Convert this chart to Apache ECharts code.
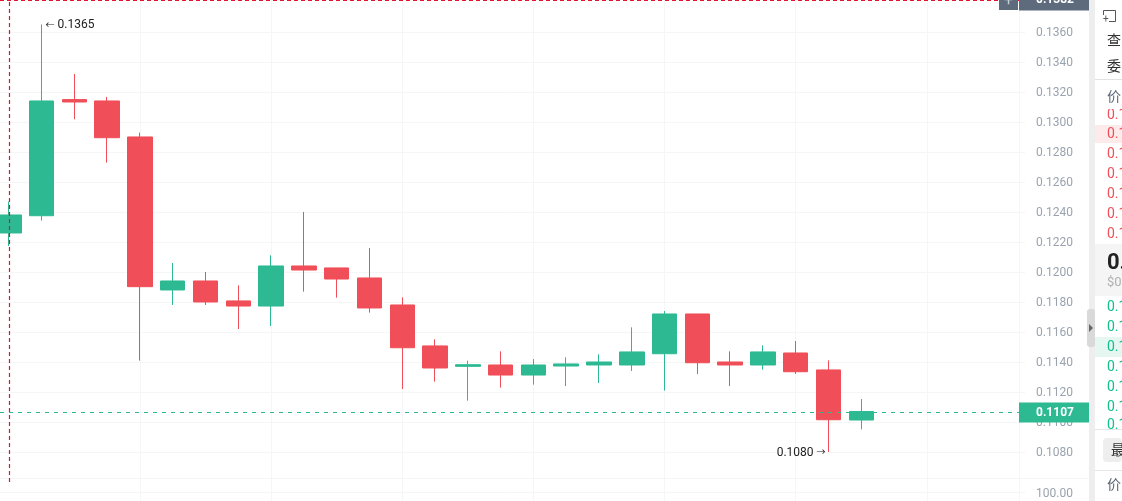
<!DOCTYPE html>
<html>
<head>
<meta charset="utf-8">
<title>K-line</title>
<script src="https://cdn.jsdelivr.net/npm/echarts@6/dist/echarts.min.js"></script>
<style>
  html, body { margin: 0; padding: 0; background: #fff; overflow: hidden; }
  #chart { width: 1122px; height: 501px; }
</style>
</head>
<body>
<div id="chart"></div>
<script>
const candleIndex = [0, 1, 2, 3, 4, 5, 6, 7, 8, 9, 10, 11, 12, 13, 14, 15, 16, 17, 18, 19, 20, 21, 22, 23, 24, 25, 26];
const opens = [0.1226, 0.12375, 0.13149, 0.1314, 0.1290, 0.1188, 0.1194, 0.11807, 0.11773, 0.1204, 0.12027, 0.1196, 0.1178, 0.11507, 0.11371, 0.1138, 0.11313, 0.11373, 0.1138, 0.1138, 0.11455, 0.1172, 0.1140, 0.1138, 0.1146, 0.11347, 0.11013];
const closes = [0.1238, 0.1314, 0.13133, 0.12895, 0.11902, 0.1194, 0.1180, 0.11773, 0.1204, 0.12013, 0.11953, 0.1176, 0.11495, 0.1136, 0.11382, 0.11313, 0.1138, 0.11387, 0.1140, 0.11467, 0.1172, 0.11395, 0.1138, 0.11467, 0.11335, 0.11015, 0.1107];
const lows = [0.12173, 0.12342, 0.13018, 0.12729, 0.11409, 0.1178, 0.1178, 0.1162, 0.1164, 0.11869, 0.11829, 0.11729, 0.1122, 0.11269, 0.11142, 0.11229, 0.11249, 0.1124, 0.1126, 0.1134, 0.11209, 0.1132, 0.1124, 0.11349, 0.1132, 0.1080, 0.10951];
const highs = [0.12469, 0.1365, 0.1332, 0.13167, 0.12929, 0.1206, 0.1200, 0.11911, 0.12111, 0.1240, 0.12027, 0.1216, 0.11831, 0.11551, 0.11409, 0.11471, 0.1142, 0.11431, 0.11451, 0.11631, 0.1174, 0.1172, 0.11471, 0.11511, 0.1154, 0.11411, 0.11153];

const priceTicks = [0.1360, 0.1340, 0.1320, 0.1300, 0.1280, 0.1260, 0.1240, 0.1220, 0.1200, 0.1180, 0.1160, 0.1140, 0.1120, 0.1100, 0.1080];
const verticalTicks = [4, 8, 12, 16, 20, 24, 28];
const volumeTicks = [100];

const lastPrice = 0.11063;
const lastPriceLabel = '0.1107';
const crosshairPrice = 0.1381;
const crosshairLabel = '0.1382';
const crosshairCandle = 0;
const highLabel = '{a|←} 0.1365';
const lowLabel = '0.1080 {a|→}';

const askRows = [115, 134, 154, 174, 194, 214, 234];
const bidRows = [307, 327, 347, 367, 387, 407, 425];

const GREEN = '#2dba92';
const RED = '#f04e58';
const GRID = '#f5f6f8';
const AXIS_TEXT = '#9aa3ae';
const TAG_DARK = '#5d6b7d';
const FONT = 'Roboto, "Noto Sans CJK SC", sans-serif';

const rows = candleIndex.map((x, i) => [x, opens[i], closes[i], lows[i], highs[i]]);

function panelText(text, y, color, font, x) {
  return {
    type: 'text', x: x || 1107, y: y, z: 20,
    style: { text: text, fill: color, font: font || '14px ' + FONT, verticalAlign: 'middle' }
  };
}

function panelRect(x, y, w, h, fill, r) {
  return { type: 'rect', z: 19, shape: { x: x, y: y, width: w, height: h, r: r || 0 }, style: { fill: fill } };
}

const panel = [
  panelRect(1095, 125, 27, 18, '#fdeaea'),
  panelRect(1095, 337, 27, 20, '#e6f7f1'),
  panelRect(1095, 244, 27, 52, '#f5f5f5'),
  panelRect(1089, 0, 6, 501, '#eeeeee'),
  panelRect(1087, 309, 8, 38, '#d9d9d9', 3),
  { type: 'polygon', z: 21, shape: { points: [[1089, 324], [1089, 332], [1093, 328]] }, style: { fill: '#666' } },
  { type: 'polyline', z: 20, shape: { points: [[1103.5, 15], [1103.5, 10.5], [1115.5, 10.5], [1115.5, 21.5], [1109, 21.5]] }, style: { stroke: '#555', fill: null, lineWidth: 1 } },
  panelText('+', 19, '#555', '10px ' + FONT, 1103),
  panelText('查', 41, '#333'),
  panelText('委', 67, '#333'),
  panelText('价', 97, '#5b6775'),
  panelRect(1095, 79, 27, 1, '#e2e2e2'),
  panelRect(1095, 429, 27, 1, '#e6e6e6'),
  panelRect(1095, 470, 27, 1, '#e6e6e6'),
  panelRect(1103, 438, 19, 24, '#eeeeee', 4),
  panelText('最', 451, '#333', null, 1111),
  panelText('价', 485, '#5b6775'),
  panelText('0.', 263, '#222', 'bold 22px ' + FONT),
  panelText('$0.', 283, '#b0b0b0', '13px ' + FONT)
];

askRows.forEach(y => panel.push(panelText('0.1', y, RED)));
bidRows.forEach(y => panel.push(panelText('0.1', y, '#0fc08c')));
// section edges hide the half rows, same as the scrolled lists
panel.push(Object.assign(panelRect(1095, 103, 27, 6, '#ffffff'), { z: 22 }));
panel.push(Object.assign(panelRect(1095, 430, 27, 8, '#ffffff'), { z: 22 }));

// the + button beside the crosshair price
panel.push(panelRect(999, 0, 19, 10, TAG_DARK));
panel.push({ type: 'text', x: 1008.5, y: 1, z: 20, style: { text: '+', fill: '#c9ced6', font: '16px ' + FONT, align: 'center', verticalAlign: 'middle' } });
panel.push(panelRect(1019, 478, 70, 1, GRID));

// rich label nudges the tick text down onto its grid line
const tickRich = { p: { color: AXIS_TEXT, fontSize: 12, fontFamily: FONT, padding: [3, 0, 0, 0] } };

const chart = echarts.init(document.getElementById('chart'));

chart.setOption({
  animation: false,
  backgroundColor: '#fff',
  textStyle: { fontFamily: FONT },
  grid: [
    { left: 0, right: 103, top: 0, height: 482 },
    { left: 0, right: 103, top: 478.5, height: 22.5 }
  ],
  xAxis: [
    {
      type: 'value', gridIndex: 0, min: -0.2684, max: 30.81,
      axisLine: { show: false },
      axisLabel: { show: false },
      axisTick: { show: false, customValues: verticalTicks },
      splitLine: { show: true, lineStyle: { color: GRID, width: 1 } }
    },
    {
      type: 'value', gridIndex: 1, position: 'top', min: -0.2684, max: 30.81,
      axisLine: { show: true, onZero: false, lineStyle: { color: GRID } },
      axisLabel: { show: false },
      axisTick: { show: false, customValues: verticalTicks },
      splitLine: { show: true, lineStyle: { color: GRID, width: 1 } }
    }
  ],
  yAxis: [
    {
      type: 'value', gridIndex: 0, position: 'right', min: 0.1060, max: 0.13813,
      axisLine: { show: true, onZero: false, lineStyle: { color: GRID } },
      axisTick: { show: true, length: 6, lineStyle: { color: GRID }, customValues: priceTicks },
      axisLabel: {
        color: AXIS_TEXT, fontSize: 12, fontFamily: FONT, margin: 17,
        customValues: priceTicks,
        rich: tickRich,
        formatter: v => `{p|${v.toFixed(4)}}`
      },
      splitLine: { show: true, lineStyle: { color: GRID, width: 1 } }
    },
    {
      type: 'value', gridIndex: 1, position: 'right', min: 0, max: 250,
      axisLine: { show: true, onZero: false, lineStyle: { color: GRID } },
      axisTick: { show: true, length: 6, lineStyle: { color: GRID }, customValues: volumeTicks },
      axisLabel: {
        color: AXIS_TEXT, fontSize: 12, fontFamily: FONT, margin: 17,
        customValues: volumeTicks,
        rich: tickRich,
        formatter: v => `{p|${v.toFixed(2)}}`
      },
      splitLine: { show: true, lineStyle: { color: GRID, width: 1 } }
    }
  ],
  series: [{
    type: 'candlestick',
    xAxisIndex: 0,
    yAxisIndex: 0,
    barWidth: 25,
    encode: { x: 0, y: [1, 2, 3, 4] },
    data: rows,
    itemStyle: { color: GREEN, color0: RED, borderColor: GREEN, borderColor0: RED, borderWidth: 1 },
    markLine: {
      silent: true,
      symbol: 'none',
      animation: false,
      precision: 5,
      data: [
        {
          yAxis: lastPrice,
          lineStyle: { color: GREEN, type: [4, 5], width: 1, opacity: 1 },
          label: {
            show: true, position: 'end', distance: 0, formatter: lastPriceLabel,
            color: '#fff', fontWeight: 'bold', fontSize: 12, align: 'left', verticalAlign: 'middle',
            backgroundColor: GREEN, width: 53, height: 20, lineHeight: 20, padding: [0, 0, 0, 17]
          }
        },
        {
          yAxis: crosshairPrice,
          lineStyle: { color: '#e3122d', type: [4, 3], width: 1.2 },
          label: {
            show: true, position: 'end', distance: 0, formatter: crosshairLabel,
            color: '#fff', fontWeight: 'bold', fontSize: 12, align: 'left', verticalAlign: 'middle',
            backgroundColor: TAG_DARK, width: 53, height: 20, lineHeight: 20, padding: [0, 0, 0, 17]
          }
        },
        {
          xAxis: crosshairCandle,
          lineStyle: { color: '#e3122d', type: [4, 3], width: 1.2 },
          label: { show: false }
        }
      ]
    },
    markPoint: {
      silent: true,
      animation: false,
      symbol: 'circle',
      symbolSize: 0,
      data: [
        {
          coord: [1, highs[1]],
          label: {
            show: true, position: 'right', distance: 4, formatter: highLabel, color: '#222', fontSize: 12,
            padding: [2, 0, 0, 0], rich: { a: { fontSize: 9, color: '#222' } }
          }
        },
        {
          coord: [25, lows[25]],
          label: {
            show: true, position: 'left', distance: 3, formatter: lowLabel, color: '#222', fontSize: 12,
            padding: [2, 0, 0, 0], rich: { a: { fontSize: 9, color: '#222' } }
          }
        }
      ]
    }
  }],
  graphic: panel
});
</script>
</body>
</html>
